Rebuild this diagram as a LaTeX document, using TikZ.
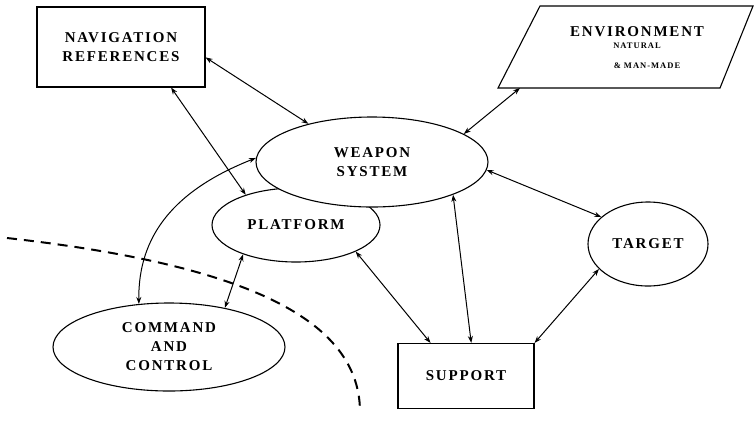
\documentclass[tikz,border=0pt]{standalone}
\usepackage{fontspec}
\setmainfont{Liberation Serif}[LetterSpace=12.0]
\usetikzlibrary{
    arrows.meta,
    shapes.geometric,
    positioning
}

\begin{document}
\begin{tikzpicture}[x=1pt, y=-1pt,
                        box/.style={draw, line width=1.1pt, fill=white, inner sep=0pt, align=center, font=\fontsize{15}{19}\selectfont\bfseries},
                        oval/.style={ellipse, draw, line width=1.1pt, fill=white, inner sep=0pt, align=center, font=\fontsize{15}{19}\selectfont\bfseries},
                        link/.style={line width=1pt, {Stealth[length=7pt,width=5pt]}-{Stealth[length=7pt,width=5pt]}},
                        small/.style={font=\fontsize{8.5}{11}\selectfont\bfseries, inner sep=0pt}
                    ]
                        \useasboundingbox (0,0) rectangle (754,424);

                        % boundary
                        \draw[line width=2pt, dash pattern=on 10pt off 7pt]
                        (7,238) .. controls (220,262) and (360,310) .. (360,412);

                        % blocks
                        \node[box, minimum width=168pt, minimum height=80pt] (nav) at (121,47) {NAVIGATION\\REFERENCES};
                        \node[oval, minimum width=168pt, minimum height=74pt] (platform) at (296,225) {PLATFORM};
                        \node[oval, minimum width=232pt, minimum height=90pt] (weapon) at (372,162) {WEAPON\\SYSTEM};
                        \node[oval, minimum width=232pt, minimum height=88pt] (cc) at (169,347) {COMMAND\\AND\\CONTROL};
                        \node[oval, minimum width=120pt, minimum height=84pt] (target) at (648,244) {TARGET};
                        \node[box, minimum width=136pt, minimum height=65pt] (support) at (466,376) {SUPPORT};

                        \draw[line width=1.1pt, fill=white] (540,6) -- (753,6) -- (720,88) -- (498,88) -- cycle;
                        \coordinate (envfoot) at (520,88);
                        \node[font=\fontsize{15}{19}\selectfont\bfseries, inner sep=0pt] (env) at (637,32) {ENVIRONMENT};
                        \node[small] (envnat) at (637,46) {NATURAL};
                        \node[small] (envman) at (647,66) {\& MAN-MADE};

                        % connectors
                        \draw[link] (nav.-7.5) -- (weapon.149);
                        \draw[link] (nav.-39) -- (platform.149);
                        \draw[link] (envfoot) -- (weapon.17);
                        \draw[link] (weapon.-4) -- (target.150);
                        \draw[link] (weapon.-22) -- (support.81);
                        \draw[link] (platform.-24) -- (support.137);
                        \draw[link] (target.207) -- (support.north east);
                        \draw[link] (platform.209) -- (cc.35);
                        \draw[link] (weapon.178) .. controls (175,190) and (138,235) .. (cc.125);
                    \end{tikzpicture}
\end{document}
